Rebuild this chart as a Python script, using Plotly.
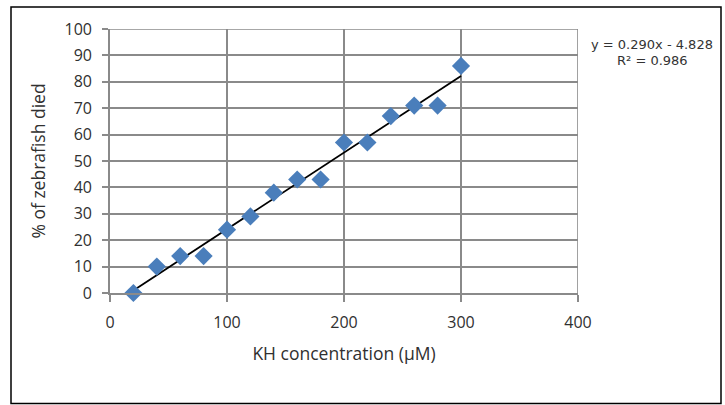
import numpy as np
import plotly.graph_objects as go

conc = [20, 40, 60, 80, 100, 120, 140, 160, 180, 200, 220, 240, 260, 280, 300]
died = [0, 10, 14, 14, 24, 29, 38, 43, 43, 57, 57, 67, 71, 71, 86]
x_ticks = [0, 100, 200, 300, 400]
y_ticks = [0, 10, 20, 30, 40, 50, 60, 70, 80, 90, 100]

slope, intercept = np.polyfit(conc, died, 1)
fit_x = [min(conc), max(conc)]
fit_y = [slope * v + intercept for v in fit_x]

FONT = "Open Sans, Calibri, Carlito, sans-serif"
GRID = "#8a8a8a"
TXT = "#303030"

fig = go.Figure()
fig.add_trace(go.Scatter(x=fit_x, y=fit_y, mode="lines",
                         line=dict(color="black", width=1.8),
                         hoverinfo="skip", showlegend=False, cliponaxis=False))
fig.add_trace(go.Scatter(x=conc, y=died, mode="markers",
                         marker=dict(symbol="diamond", size=14, color="#4a7ebb",
                                     line=dict(width=0)),
                         showlegend=False, cliponaxis=False))

fig.update_layout(
    width=725, height=405,
    margin=dict(l=110, r=147, t=29, b=112),
    paper_bgcolor="white", plot_bgcolor="white",
    font=dict(family=FONT, size=16, color=TXT),
    xaxis=dict(range=[0, 400], tickvals=x_ticks, showgrid=True, gridcolor=GRID,
               gridwidth=1.6, zeroline=False, showline=True, linecolor=GRID,
               linewidth=1.6, ticks="outside", ticklen=7, tickcolor=GRID,
               tickwidth=1.6, ticklabelstandoff=7,
               tickfont=dict(size=16, family=FONT, color=TXT),
               title=dict(text="KH concentration (µM)", standoff=16,
                          font=dict(size=17.5, family=FONT, color=TXT))),
    yaxis=dict(range=[0, 100], tickvals=y_ticks, showgrid=True, gridcolor=GRID,
               gridwidth=1.6, zeroline=False, showline=True, linecolor=GRID,
               linewidth=1.6, ticks="outside", ticklen=6, tickcolor=GRID,
               tickwidth=1.6, ticklabelstandoff=7,
               tickfont=dict(size=16, family=FONT, color=TXT),
               title=dict(text="% of zebrafish died", standoff=14,
                          font=dict(size=17.5, family=FONT, color=TXT))),
    shapes=[
        dict(type="line", xref="x", yref="paper", x0=400, x1=400, y0=0, y1=1,
             line=dict(color=GRID, width=1.6), layer="below"),
        dict(type="line", xref="paper", yref="y", x0=0, x1=1, y0=100, y1=100,
             line=dict(color=GRID, width=1.6), layer="below"),
    ],
)

pl, pr, pt, pb = 110, 578, 29, 293
def px_x(v):
    return (v - pl) / (pr - pl)
def px_y(v):
    return (pb - v) / (pb - pt)
fig.add_shape(type="rect", xref="paper", yref="paper",
              x0=px_x(11), x1=px_x(721), y0=px_y(403.5), y1=px_y(7),
              line=dict(color="black", width=1.5), fillcolor="rgba(0,0,0,0)")

EQF = dict(family="DejaVu Sans, Arial, sans-serif", size=13, color="#333333")
fig.add_annotation(xref="paper", yref="paper", x=px_x(652), y=px_y(44.5),
                   text="y = 0.290x - 4.828", showarrow=False, font=EQF,
                   xanchor="center", yanchor="middle")
fig.add_annotation(xref="paper", yref="paper", x=px_x(652), y=px_y(60.5),
                   text="R² = 0.986", showarrow=False, font=EQF,
                   xanchor="center", yanchor="middle")

fig.write_html("out.html", config={"displayModeBar": False},
               post_script="document.body.style.margin='0';")
